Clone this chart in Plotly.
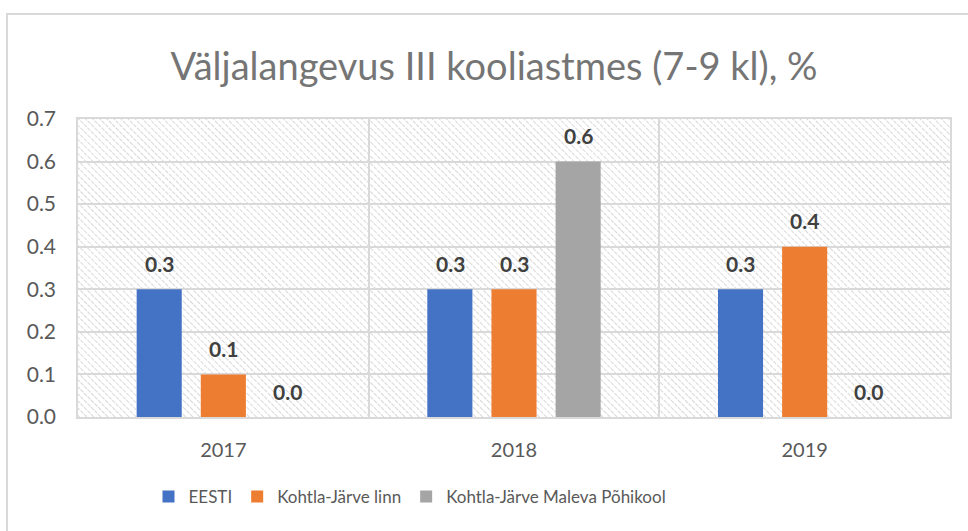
import base64
import plotly.graph_objects as go

years = ["2017", "2018", "2019"]
eesti = [0.3, 0.3, 0.3]
kj_linn = [0.1, 0.3, 0.4]
maleva = [0.0, 0.6, 0.0]
series_names = ["EESTI", "Kohtla-Järve linn", "Kohtla-Järve Maleva Põhikool"]
colors = ["#4472C4", "#ED7D31", "#A5A5A5"]
title_text = "Väljalangevus III kooliastmes (7-9 kl), %"

W, H = 968, 531
L, R, T, B = 78, 950, 119, 417
FONT = "Lato, Open Sans, sans-serif"

fig = go.Figure()
series = [eesti, kj_linn, maleva]
for name, vals, col in zip(series_names, series, colors):
    fig.add_trace(go.Bar(
        x=years, y=vals, name=name, marker=dict(color=col, line=dict(width=0)),
        hoverinfo="skip",
    ))

# data labels above each bar (x given as category index)
annotations = []
slot_px = 64
for si, vals in enumerate(series):
    for ci, v in enumerate(vals):
        annotations.append(dict(
            x=ci, y=v, xref="x", yref="y", text=f"<b>{v:.1f}</b>", showarrow=False,
            xshift=(si - 1) * slot_px, yshift=26, yanchor="middle",
            font=dict(family=FONT, size=21, color="#404040"),
        ))

# hatched background pattern (decoration)
pw, ph = R - L, B - T
svg = (f'<svg xmlns="http://www.w3.org/2000/svg" width="{pw}" height="{ph}" viewBox="0 0 {pw} {ph}">'
       '<defs><pattern id="p" width="5" height="5" patternUnits="userSpaceOnUse" patternTransform="rotate(-45)">'
       '<line x1="0" y1="0" x2="0" y2="5" stroke="#cfcfcf" stroke-width="1.6" stroke-dasharray="2,1"/></pattern></defs>'
       f'<rect width="{pw}" height="{ph}" fill="white"/><rect width="{pw}" height="{ph}" fill="url(#p)"/></svg>')
src = "data:image/svg+xml;base64," + base64.b64encode(svg.encode()).decode()

fig.update_layout(
    width=W, height=H,
    margin=dict(l=L, r=W - R, t=T, b=H - B),
    paper_bgcolor="white", plot_bgcolor="white",
    barmode="group", bargap=0.338, bargroupgap=0.297,
    title=dict(text=title_text, x=494 / W, xanchor="center", y=1 - 67 / H, yanchor="middle",
               font=dict(family=FONT, size=38, color="#757575")),
    font=dict(family=FONT, color="#595959"),
    showlegend=True,
    legend=dict(orientation="h", x=(410 - L) / pw, xanchor="center", y=-(497 - B) / ph, yanchor="middle",
                font=dict(size=17, color="#595959"), itemwidth=30, traceorder="normal"),
    annotations=annotations,
    images=[dict(source=src, xref="x domain", yref="y domain", x=0, y=1, sizex=1, sizey=1,
                 xanchor="left", yanchor="top", sizing="stretch", layer="below")],
    shapes=[dict(type="rect", xref="paper", yref="paper",
                 x0=(7 - L) / pw, x1=(W + 20 - L) / pw,
                 y0=-(H + 20 - B) / ph, y1=1 + (T - 14) / ph,
                 line=dict(color="#d9d9d9", width=2), fillcolor="rgba(0,0,0,0)", layer="below")],
)
fig.update_xaxes(type="category", tickson="boundaries", showgrid=True, gridcolor="#d9d9d9", gridwidth=1.5,
                 showline=True, linecolor="#d9d9d9", linewidth=1.5, mirror=True, ticks="",
                 tickfont=dict(size=20, color="#595959"), ticklabelstandoff=14)
fig.update_yaxes(range=[0, 0.7], dtick=0.1, tickformat=".1f", showgrid=True, gridcolor="#d9d9d9", gridwidth=1.5,
                 showline=True, linecolor="#d9d9d9", linewidth=1.5, mirror=True, ticks="",
                 zeroline=False, tickfont=dict(size=21, color="#595959"), ticklabelstandoff=16)

fig.write_html("out.html", config={"displayModeBar": False},
               post_script="document.body.style.margin='0';document.documentElement.style.overflow='hidden';")
